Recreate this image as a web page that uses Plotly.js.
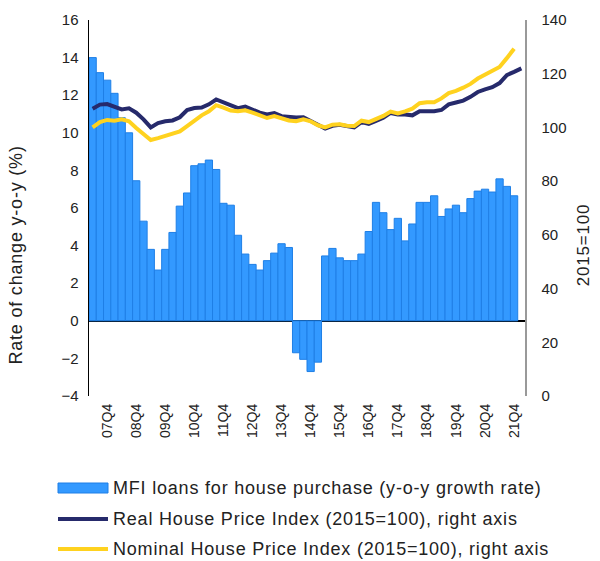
<!DOCTYPE html>
<html>
<head>
<meta charset="utf-8">
<script src="https://cdn.plot.ly/plotly-3.0.1.min.js"></script>
<style>
html,body{margin:0;padding:0;background:#fff;}
#chart{width:600px;height:561px;}
#chart .annotation-text{letter-spacing:0.8px;}
</style>
</head>
<body>
<div id="chart"></div>
<script>
var quarters = [
 "07Q2","07Q3","07Q4","08Q1","08Q2","08Q3","08Q4","09Q1","09Q2","09Q3","09Q4",
 "10Q1","10Q2","10Q3","10Q4","11Q1","11Q2","11Q3","11Q4",
 "12Q1","12Q2","12Q3","12Q4","13Q1","13Q2","13Q3","13Q4",
 "14Q1","14Q2","14Q3","14Q4","15Q1","15Q2","15Q3","15Q4",
 "16Q1","16Q2","16Q3","16Q4","17Q1","17Q2","17Q3","17Q4",
 "18Q1","18Q2","18Q3","18Q4","19Q1","19Q2","19Q3","19Q4",
 "20Q1","20Q2","20Q3","20Q4","21Q1","21Q2","21Q3","21Q4","22Q1"
];

var mfiLoans = [
 14.0,13.2,12.8,12.1,10.8,10.0,7.45,5.3,3.8,2.7,3.8,
 4.7,6.1,6.8,8.25,8.35,8.55,8.05,6.25,
 6.15,4.55,3.55,3.0,2.7,3.2,3.6,4.1,
 3.9,-1.7,-2.05,-2.7,-2.2,3.45,3.85,3.35,
 3.2,3.2,3.55,4.75,6.3,5.75,4.85,5.45,
 4.25,5.15,6.3,6.3,6.65,5.55,5.95,6.15,
 5.75,6.5,6.9,7.0,6.85,7.55,7.15,6.65,null
];

var realHPI = [
 107.0,108.5,108.7,107.8,106.7,107.1,105.5,103.0,100.0,101.6,102.3,
 102.6,103.8,106.5,107.2,107.4,108.6,110.4,109.2,
 108.0,107.2,107.8,106.6,105.5,104.8,105.3,104.2,
 103.9,103.7,103.8,102.6,101.0,99.6,100.6,101.0,
 100.5,100.0,102.0,101.3,102.4,103.6,105.4,104.8,
 104.8,104.5,106.0,106.1,106.0,106.5,108.6,109.3,
 110.0,111.4,113.2,114.2,115.0,116.5,119.5,120.7,122.0
];

var nominalHPI = [
 100.0,102.0,102.8,102.5,103.0,102.3,99.8,97.3,95.3,96.0,96.8,
 97.5,98.5,100.5,102.5,104.5,106.0,108.3,107.4,
 106.3,106.0,106.4,105.5,104.3,103.5,104.2,103.2,
 102.6,102.3,103.0,102.3,100.8,100.0,101.0,101.2,
 100.6,100.5,102.5,102.0,103.0,104.3,105.9,105.2,
 106.0,107.0,109.0,109.4,109.4,110.8,112.8,113.6,
 114.8,116.2,118.2,119.5,120.8,122.5,125.8,129.3,null
];

var tickQuarters = ["07Q4","08Q4","09Q4","10Q4","11Q4","12Q4","13Q4","14Q4","15Q4","16Q4","17Q4","18Q4","19Q4","20Q4","21Q4"];

var seriesNames = [
 "MFI loans for house purchase (y-o-y growth rate)",
 "Real House Price Index (2015=100), right axis",
 "Nominal House Price Index (2015=100), right axis"
];

var barColor = "#3399ff", barEdge = "#1f7fe6";
var realColor = "#262a6b", nomColor = "#ffd21f";

var traces = [
 {type:"bar", x:quarters, y:mfiLoans, name:seriesNames[0], yaxis:"y",
  marker:{color:barColor, line:{color:barEdge, width:1}}},
 {type:"scatter", mode:"lines", x:quarters, y:realHPI, name:seriesNames[1], yaxis:"y2",
  line:{color:realColor, width:4}},
 {type:"scatter", mode:"lines", x:quarters, y:nominalHPI, name:seriesNames[2], yaxis:"y2",
  line:{color:nomColor, width:4}}
];

var font = "Liberation Sans, Arial, sans-serif";

// legend built in paper coordinates (plot area: x 89..525 px, y 20..396 px)
var PL = 89, PW = 436, PB = 396, PH = 376;
function px(x){ return (x - PL) / PW; }
function py(y){ return (PB - y) / PH; }
var legendRowsY = [488, 519, 549];

var shapes = [
 {type:"rect", xref:"paper", yref:"paper", layer:"above",
  x0:px(58), x1:px(108), y0:py(legendRowsY[0]-5), y1:py(legendRowsY[0]+5),
  fillcolor:barColor, line:{color:barEdge, width:1}},
 {type:"line", xref:"paper", yref:"paper", layer:"above",
  x0:px(58), x1:px(108), y0:py(legendRowsY[1]), y1:py(legendRowsY[1]),
  line:{color:realColor, width:4}},
 {type:"line", xref:"paper", yref:"paper", layer:"above",
  x0:px(58), x1:px(108), y0:py(legendRowsY[2]), y1:py(legendRowsY[2]),
  line:{color:nomColor, width:4}}
];

var annotations = [
 {text:"Rate of change y-o-y (%)", xref:"paper", yref:"paper", x:px(16), y:py(255),
  xanchor:"center", yanchor:"middle", textangle:-90, showarrow:false,
  font:{family:font, size:18, color:"#222"}},
 {text:"2015=100", xref:"paper", yref:"paper", x:px(584), y:py(245),
  xanchor:"center", yanchor:"middle", textangle:-90, showarrow:false,
  font:{family:font, size:17, color:"#222"}}
];
for (var i = 0; i < seriesNames.length; i++) {
 annotations.push({text:seriesNames[i], xref:"paper", yref:"paper",
  x:px(111), y:py(legendRowsY[i]), xanchor:"left", yanchor:"middle", align:"left",
  showarrow:false, font:{family:font, size:18, color:"#222"}});
}

var layout = {
 width:600, height:561,
 margin:{l:89, r:75, t:20, b:165},
 paper_bgcolor:"#fff", plot_bgcolor:"#fff",
 font:{family:font, size:14, color:"#222"},
 bargap:0,
 showlegend:false,
 xaxis:{type:"category", categoryorder:"array", categoryarray:quarters,
   range:[-0.5, quarters.length-0.5],
   tickmode:"array", tickvals:tickQuarters, ticktext:tickQuarters,
   tickangle:-90, tickfont:{size:14, color:"#222"}, ticklabelstandoff:4,
   showline:false, showgrid:false, zeroline:false, ticks:"", fixedrange:true},
 yaxis:{range:[-4,16], dtick:2, tick0:0, showgrid:false,
   zeroline:true, zerolinecolor:"#000", zerolinewidth:1.5,
   showline:true, linecolor:"#000", linewidth:1.5, ticks:"",
   tickfont:{size:15, color:"#222"}, ticklabelstandoff:6},
 yaxis2:{range:[0,140], dtick:20, tick0:0, overlaying:"y", side:"right",
   showgrid:false, zeroline:false, showline:true, linecolor:"#999", linewidth:1.5,
   ticks:"", tickfont:{size:15, color:"#222"}, ticklabelstandoff:12},
 shapes:shapes,
 annotations:annotations
};

Plotly.newPlot("chart", traces, layout, {displayModeBar:false, staticPlot:true});
</script>
</body>
</html>
